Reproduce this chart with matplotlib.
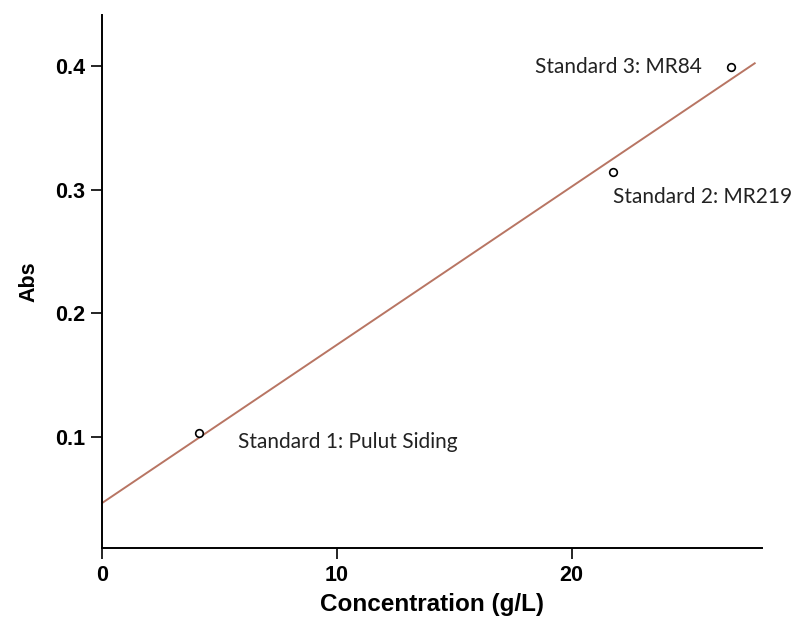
import matplotlib.pyplot as plt

# standards
conc = [4.15, 21.75, 26.8]
absorb = [0.103, 0.314, 0.399]
labels = ["Standard 1: Pulut Siding", "Standard 2: MR219", "Standard 3: MR84"]

# fitted calibration line end points
line_x = [0.0, 27.8]
line_y = [0.0466, 0.402]

xticks = [0, 10, 20]
yticks = [0.1, 0.2, 0.3, 0.4]

axfont = "Liberation Sans"

fig = plt.figure(figsize=(7.92, 6.19), dpi=100)
ax = fig.add_axes([0.1288, 0.1147, 0.833, 0.861])

ax.plot(line_x, line_y, color="#b87563", lw=1.4)
ax.plot(conc, absorb, "o", mfc="white", mec="black", ms=5.5, mew=1.2)

# label offsets (points) relative to each marker
offs = [(28, -6), (0, -18), (-21, 0)]
aligns = ["left", "left", "right"]
for x, y, s, o, ha in zip(conc, absorb, labels, offs, aligns):
    ax.annotate(s, (x, y), xytext=o, textcoords="offset points",
                fontsize=15, family="Lato", color="#222222",
                va="center", ha=ha, annotation_clip=False)

ax.set_xlim(0, 28.1)
ax.set_ylim(0.0103, 0.441)
ax.set_xticks(xticks)
ax.set_yticks(yticks)
ax.set_xticklabels([str(t) for t in xticks])
ax.set_yticklabels([str(t) for t in yticks])

for sp in ["top", "right"]:
    ax.spines[sp].set_visible(False)
for sp in ["left", "bottom"]:
    ax.spines[sp].set_linewidth(1.4)
ax.spines["left"].set_bounds(0.0103, 0.441)
ax.tick_params(direction="out", length=8, width=1.2, pad=4)
for lab in ax.get_xticklabels() + ax.get_yticklabels():
    lab.set_fontweight("bold")
    lab.set_fontsize(15.5)
    lab.set_family(axfont)

ax.set_xlabel("Concentration (g/L)", fontsize=17.5, fontweight="bold",
              family=axfont, labelpad=5)
ax.set_ylabel("Abs", fontsize=15.5, fontweight="bold",
              family=axfont, labelpad=11)

fig.savefig("out.png", dpi=100)
